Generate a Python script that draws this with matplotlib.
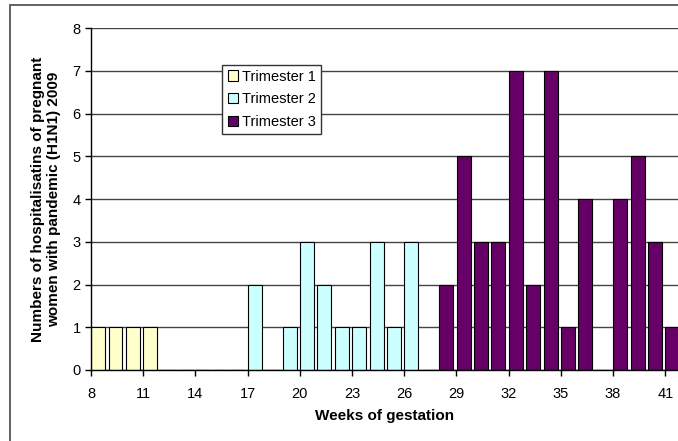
import matplotlib.pyplot as plt
from matplotlib.patches import Rectangle

plt.rcParams['font.family'] = ['Liberation Sans', 'DejaVu Sans']

# weeks of gestation and number of hospitalisations per trimester
weeks_t1 = [8, 9, 10, 11, 12, 13]
counts_t1 = [1, 1, 1, 1, 0, 0]
weeks_t2 = [14, 15, 16, 17, 18, 19, 20, 21, 22, 23, 24, 25, 26, 27]
counts_t2 = [0, 0, 0, 2, 0, 1, 3, 2, 1, 1, 3, 1, 3, 0]
weeks_t3 = [28, 29, 30, 31, 32, 33, 34, 35, 36, 37, 38, 39, 40, 41]
counts_t3 = [2, 5, 3, 3, 7, 2, 7, 1, 4, 0, 4, 5, 3, 1]
xticks = [8, 11, 14, 17, 20, 23, 26, 29, 32, 35, 38, 41]

fig = plt.figure(figsize=(6.78, 4.41), dpi=100)
ax = fig.add_axes([0.1342, 0.161, 0.8658, 0.7755])

# outer frame of the chart area
fig.patches.append(Rectangle((10 / 678, -0.05), 1.1, 1 - 5 / 441 + 0.05,
                             transform=fig.transFigure, fill=False,
                             edgecolor='#555555', linewidth=1.3))

ax.set_axisbelow(True)
ax.yaxis.grid(True, color='#444444', linewidth=1.0)

ax.bar([w + 0.41 for w in weeks_t1], counts_t1, width=0.8, color='#FFFFCC',
       edgecolor='black', linewidth=0.8, label='Trimester 1')
ax.bar([w + 0.41 for w in weeks_t2], counts_t2, width=0.8, color='#CCFFFF',
       edgecolor='black', linewidth=0.8, label='Trimester 2')
ax.bar([w + 0.41 for w in weeks_t3], counts_t3, width=0.8, color='#660066',
       edgecolor='black', linewidth=0.8, label='Trimester 3')

ax.set_xlim(8, 41.73)
ax.set_ylim(0, 8)
ax.set_xticks(xticks)
ax.set_yticks(range(0, 9))
ax.tick_params(axis='both', labelsize=10.5, length=4, width=1, direction='out')
ax.tick_params(axis='x', pad=8)
ax.spines['top'].set_visible(False)
ax.spines['right'].set_visible(False)
ax.spines['left'].set_linewidth(1.0)
ax.spines['bottom'].set_linewidth(1.0)

ax.set_xlabel('Weeks of gestation', fontsize=11, fontweight='bold', labelpad=6)
ax.set_ylabel('Numbers of hospitalisatins of pregnant\nwomen with pandemic (H1N1) 2009',
              fontsize=11, fontweight='bold', labelpad=8)

leg = ax.legend(loc='upper left', bbox_to_anchor=(0.224, 0.893), fontsize=10.5,
                fancybox=False, framealpha=1, edgecolor='#333333',
                handlelength=0.7, handleheight=0.7, handletextpad=0.3,
                borderpad=0.35, labelspacing=0.6, borderaxespad=0)
leg.get_frame().set_linewidth(1.0)

fig.savefig('out.png', dpi=100)
